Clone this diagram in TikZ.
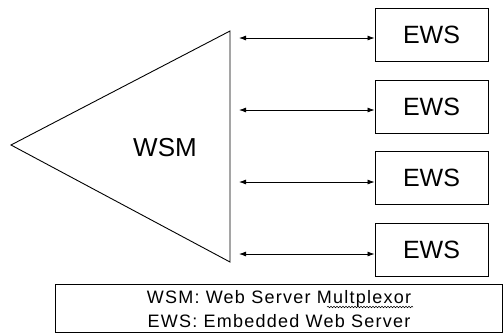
\documentclass[tikz,border=0pt]{standalone}
\usepackage{fontspec}
\setmainfont{Liberation Sans}
\usetikzlibrary{arrows.meta,decorations.pathmorphing}
\begin{document}
\begin{tikzpicture}[x=1pt,y=-1pt,
  line width=0.9pt,
  ewsbox/.style={draw, minimum width=113pt, minimum height=53pt, inner sep=0pt,
    font=\fontsize{25}{25}\selectfont},
  link/.style={{Latex[length=7pt,width=5pt]}-{Latex[length=7pt,width=5pt]}, line width=0.8pt},
  captext/.style={font=\fontsize{18}{24}\selectfont\addfontfeature{LetterSpace=7}, align=center},
  squiggle/.style={line width=0.5pt, decorate, decoration={snake, amplitude=0.8pt, segment length=3pt}}
]
\useasboundingbox (0,0) rectangle (503,333);
% WSM triangle
\coordinate (tip) at (11,145);
\coordinate (tr) at (230,31);
\coordinate (br) at (230,262);
\draw (tip) -- (tr) -- (br) -- cycle;
\node[font=\fontsize{26}{26}\selectfont] (wsm) at (165,148) {WSM};
% EWS boxes
\node[ewsbox] (e1) at (431.5,35) {EWS};
\node[ewsbox] (e2) at (431.5,107) {EWS};
\node[ewsbox] (e3) at (431.5,178) {EWS};
\node[ewsbox] (e4) at (431.5,250) {EWS};
% connector endpoints on triangle side
\coordinate (a1) at (239,38);
\coordinate (a2) at (239,110);
\coordinate (a3) at (239,182);
\coordinate (a4) at (239,254);
\draw[link] (a1) -- (a1 -| e1.west);
\draw[link] (a2) -- (a2 -| e2.west);
\draw[link] (a3) -- (a3 -| e3.west);
\draw[link] (a4) -- (a4 -| e4.west);
% legend
\node[draw, minimum width=447pt, minimum height=48pt, inner sep=0pt] (legend) at (278.5,308) {};
\node[captext] (cap) at (279,309) {WSM: Web Server Multplexor\\EWS: Embedded Web Server};
\coordinate (sq1) at (327,307);
\coordinate (sq2) at (413,307);
\draw[squiggle] (sq1) -- (sq2);
\end{tikzpicture}
\end{document}
